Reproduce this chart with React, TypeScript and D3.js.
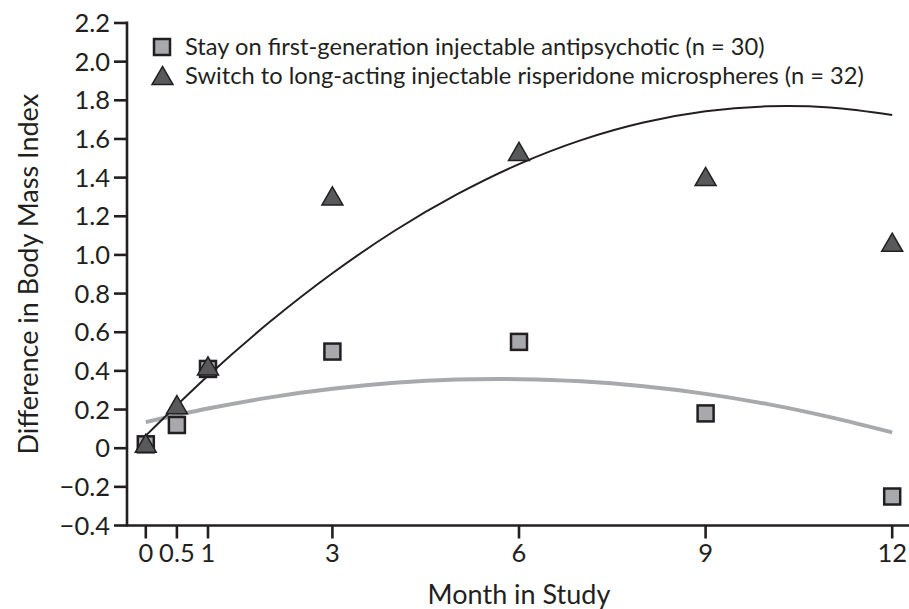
import React from "react";
import * as d3 from "d3";

// Observed mean change in BMI at each visit
const months = [0, 0.5, 1, 3, 6, 9, 12];
const stayValues = [0.02, 0.12, 0.41, 0.5, 0.55, 0.18, -0.25];
const switchValues = [0.01, 0.21, 0.41, 1.29, 1.52, 1.39, 1.05];

// Fitted trend curves, sampled monthly
const fitMonths = [0, 1, 2, 3, 4, 5, 6, 7, 8, 9, 10, 11, 12];
const stayFit = [0.135, 0.205, 0.263, 0.307, 0.338, 0.355, 0.357, 0.346, 0.32, 0.281, 0.228, 0.161, 0.082];
const switchFit = [0.065, 0.375, 0.655, 0.905, 1.125, 1.313, 1.47, 1.594, 1.685, 1.743, 1.769, 1.763, 1.724];

const xTicks = [0, 0.5, 1, 3, 6, 9, 12];
const yTicks = [-0.4, -0.2, 0, 0.2, 0.4, 0.6, 0.8, 1.0, 1.2, 1.4, 1.6, 1.8, 2.0, 2.2];

const legendLabels = [
  "Stay on first-generation injectable antipsychotic (n = 30)",
  "Switch to long-acting injectable risperidone microspheres (n = 32)",
];

const W = 909;
const H = 609;
const FONT = "Lato, 'Open Sans', sans-serif";
const INK = "#231f20";

export default function App() {
  const x = d3.scaleLinear().domain([0, 12]).range([145.8, 892.2]);
  const y = d3.scaleLinear().domain([-0.4, 2.2]).range([525.5, 23]);
  const axisLeft = 127;
  const axisBottom = 525.5;

  const line = d3
    .line<number>()
    .x((_, i) => x(fitMonths[i]))
    .y((d) => y(d))
    .curve(d3.curveCatmullRom.alpha(0.5));

  const sq = 16;
  const tri = d3.symbol().type(d3.symbolTriangle).size(190);

  const fmtY = (v: number) =>
    v === 0 ? "0" : v < 0 ? "\u2212" + Math.abs(v).toFixed(1) : v.toFixed(1);

  return (
    <svg
      width={W}
      height={H}
      style={{ position: "absolute", left: 0, top: 0, background: "#fff" }}
      fontFamily={FONT}
    >
      {/* Axes */}
      <line x1={axisLeft} x2={axisLeft} y1={21.5} y2={axisBottom + 1} stroke={INK} strokeWidth={2.6} />
      <line x1={axisLeft - 1} x2={W} y1={axisBottom} y2={axisBottom} stroke={INK} strokeWidth={2.6} />

      {yTicks.map((t) => (
        <g key={"y" + t}>
          <line x1={axisLeft - 13} x2={axisLeft} y1={y(t)} y2={y(t)} stroke={INK} strokeWidth={2.6} />
          <text
            x={axisLeft - 17}
            y={y(t)}
            dy="0.36em"
            textAnchor="end"
            fontSize={25.5}
            fill={INK}
          >
            {fmtY(t)}
          </text>
        </g>
      ))}

      {xTicks.map((t) => (
        <g key={"x" + t}>
          <line x1={x(t)} x2={x(t)} y1={axisBottom} y2={axisBottom + 13} stroke={INK} strokeWidth={2.6} />
          <text x={x(t)} y={561.5} textAnchor="middle" fontSize={25.5} fill={INK}>
            {String(t)}
          </text>
        </g>
      ))}

      <text
        transform={`translate(37.5, ${(23 + 525.5) / 2}) rotate(-90)`}
        textAnchor="middle"
        fontSize={27}
        fill={INK}
      >
        Difference in Body Mass Index
      </text>
      <text x={x(6)} y={604} textAnchor="middle" fontSize={27} fill={INK}>
        Month in Study
      </text>

      {/* Trend curves */}
      <path d={line(stayFit) || ""} fill="none" stroke="#a7a9ac" strokeWidth={4} />
      <path d={line(switchFit) || ""} fill="none" stroke={INK} strokeWidth={2} />

      {/* Points */}
      {months.map((m, i) => (
        <rect
          key={"s" + m}
          x={x(m) - sq / 2}
          y={y(stayValues[i]) - sq / 2}
          width={sq}
          height={sq}
          fill="#a7a9ac"
          stroke={INK}
          strokeWidth={2.5}
        />
      ))}
      {months.map((m, i) => (
        <path
          key={"t" + m}
          d={tri() || ""}
          transform={`translate(${x(m)}, ${y(switchValues[i])})`}
          fill="#58595b"
          stroke={INK}
          strokeWidth={1.5}
        />
      ))}

      {/* Legend */}
      <rect x={154} y={39} width={16} height={16} fill="#a7a9ac" stroke={INK} strokeWidth={2.5} />
      <path d={tri() || ""} transform="translate(162.5, 78.5)" fill="#58595b" stroke={INK} strokeWidth={1.5} />
      <text x={185} y={55} fontSize={23.7} fill={INK}>
        {legendLabels[0]}
      </text>
      <text x={185} y={83.5} fontSize={23.7} fill={INK}>
        {legendLabels[1]}
      </text>
    </svg>
  );
}
